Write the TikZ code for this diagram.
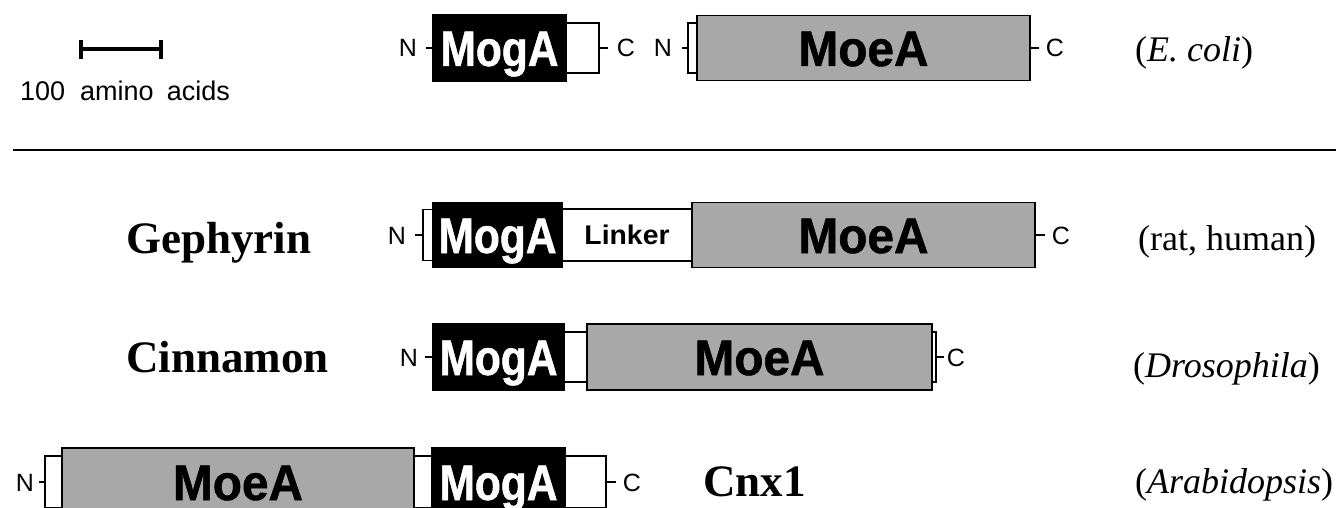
\documentclass[tikz,border=0pt]{standalone}
\usepackage{fontspec}
\setmainfont{Liberation Serif}
\newfontfamily\hv{Liberation Sans}
\newfontfamily\mogfont[FakeStretch=0.85,FakeBold=1]{Liberation Sans}
\newfontfamily\moefont[FakeStretch=0.955,FakeBold=1]{Liberation Sans}
\newfontfamily\lnkfont[FakeStretch=1.05]{Liberation Sans}
\definecolor{domgray}{RGB}{168,168,168}

\begin{document}
\begin{tikzpicture}[x=1pt,y=-1pt,
  dom/.style={draw=black, line width=1.4pt, inner sep=0pt, outer sep=0pt,
    anchor=west, text depth=0pt},
  mog/.style={dom, fill=black, text=white, text height=36pt,
    font=\mogfont\bfseries\fontsize{50}{60}\selectfont},
  moe/.style={dom, fill=domgray, text height=36pt,
    font=\moefont\bfseries\fontsize{50}{60}\selectfont},
  lnk/.style={dom, fill=white, text height=18pt,
    font=\lnkfont\bfseries\fontsize{27}{32}\selectfont},
  plain/.style={dom, fill=white},
  term/.style={anchor=base, inner sep=0pt, font=\hv\fontsize{25}{30}\selectfont},
  tick/.style={line width=1.4pt},
  protein/.style={anchor=base west, inner sep=0pt,
    font=\bfseries\fontsize{45}{54}\selectfont},
  species/.style={anchor=base west, inner sep=0pt,
    font=\fontsize{36}{43}\selectfont}
]
\useasboundingbox (0,0) rectangle (1336,508);
\clip (0,0) rectangle (1336,508);

% scale bar
\coordinate (sbL) at (81,49);
\coordinate (sbR) at (161,49);
\draw[line width=4pt] (sbL) -- (sbR);
\draw[line width=4pt] ([yshift=9pt]sbL) -- ([yshift=-10pt]sbL);
\draw[line width=4pt] ([yshift=9pt]sbR) -- ([yshift=-10pt]sbR);
\node[anchor=base west, inner sep=0pt, font=\hv\fontsize{27}{32}\selectfont]
  (sblabel) at (20,101) {100\hspace{15pt}amino\hspace{13pt}acids};

% E. coli: MogA and MoeA
\node[mog, minimum width=133pt, minimum height=66pt] (r1mog) at (433,48) {MogA};
\node[plain, minimum width=33pt, minimum height=50pt] (r1tail) at (r1mog.east) {};
\node[term] (r1N) at (408,57) {N};
\node[term] (r1C) at (626,57) {C};
\draw[tick] (r1mog.west) -- ++(-7,0);
\draw[tick] (r1tail.east) -- ++(9,0);
\node[plain, minimum width=9pt, minimum height=50pt] (r1head) at (688,48) {};
\node[moe, minimum width=333pt, minimum height=65pt] (r1moe) at (r1head.east) {MoeA};
\node[term] (r1N2) at (663,57) {N};
\node[term] (r1C2) at (1055,57) {C};
\draw[tick] (r1head.west) -- ++(-6,0);
\draw[tick] (r1moe.east) -- ++(9,0);
\node[species] (ecoli) at (1135,62) {(\textit{E. coli})};

% separator
\coordinate (ruleL) at (13,150);
\coordinate (ruleR) at (1336,150);
\draw[line width=2pt] (ruleL) -- (ruleR);

% Gephyrin
\node[protein] (geph) at (126,253) {Gephyrin};
\node[plain, minimum width=10pt, minimum height=51pt] (r2head) at (423,235) {};
\node[mog, minimum width=129pt, minimum height=65pt] (r2mog) at (r2head.east) {MogA};
\node[lnk, minimum width=130pt, minimum height=52pt] (r2lnk) at (r2mog.east) {Linker};
\node[moe, minimum width=343pt, minimum height=65pt] (r2moe) at (r2lnk.east) {MoeA};
\node[term] (r2N) at (397,244) {N};
\node[term] (r2C) at (1061,244) {C};
\draw[tick] (r2head.west) -- ++(-8,0);
\draw[tick] (r2moe.east) -- ++(10,0);
\node[species] (rathuman) at (1138,250) {(rat, human)};

% Cinnamon
\node[protein] (cinn) at (126,372) {Cinnamon};
\node[mog, minimum width=131pt, minimum height=66pt] (r3mog) at (433,357) {MogA};
\node[plain, minimum width=23pt, minimum height=50pt] (r3lnk) at (r3mog.east) {};
\node[moe, minimum width=345pt, minimum height=66pt] (r3moe) at (r3lnk.east) {MoeA};
\node[plain, minimum width=4pt, minimum height=50pt] (r3tail) at (r3moe.east) {};
\node[term] (r3N) at (409,366) {N};
\node[term] (r3C) at (956,366) {C};
\draw[tick] (r3mog.west) -- ++(-8,0);
\draw[tick] (r3tail.east) -- ++(8,0);
\node[species] (droso) at (1133,377) {(\textit{Drosophila})};

% Cnx1
\node[plain, minimum width=17pt, minimum height=52pt] (r4head) at (45,482) {};
\node[moe, minimum width=352pt, minimum height=68pt] (r4moe) at (r4head.east) {MoeA};
\node[plain, minimum width=18pt, minimum height=52pt] (r4lnk) at (r4moe.east) {};
\node[mog, minimum width=133pt, minimum height=68pt] (r4mog) at (r4lnk.east) {MogA};
\node[plain, minimum width=41pt, minimum height=52pt] (r4tail) at (r4mog.east) {};
\node[term] (r4N) at (25,491) {N};
\node[term] (r4C) at (632,491) {C};
\draw[tick] (r4head.west) -- ++(-6,0);
\draw[tick] (r4tail.east) -- ++(10,0);
\node[protein] (cnx) at (703,496) {Cnx1};
\node[species] (arabi) at (1135,493) {(\textit{Arabidopsis})};
\end{tikzpicture}
\end{document}
